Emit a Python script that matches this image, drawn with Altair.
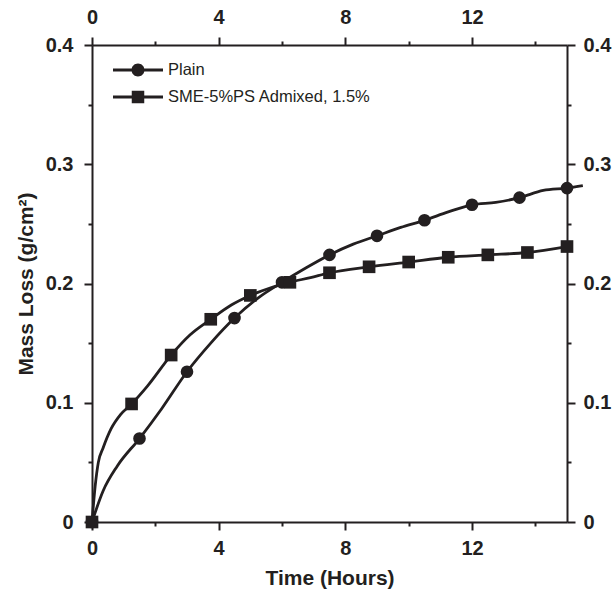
import altair as alt
import pandas as pd

# ---- data ----
plain_t = [0, 0.35, 0.8, 1.5, 2.2, 3.0, 3.75, 4.5, 5.25, 6.0, 6.75, 7.5, 8.25,
           9.0, 9.75, 10.5, 11.25, 12.0, 12.75, 13.5, 14.25, 15.0, 15.5]
plain_v = [0, 0.026, 0.047, 0.070, 0.095, 0.126, 0.150, 0.171, 0.188, 0.201, 0.213,
           0.224, 0.233, 0.240, 0.247, 0.253, 0.260, 0.266, 0.268, 0.272, 0.278,
           0.280, 0.282]
plain_mark_t = [0, 1.5, 3.0, 4.5, 6.0, 7.5, 9.0, 10.5, 12.0, 13.5, 15.0]
plain_mark_v = [0, 0.070, 0.126, 0.171, 0.201, 0.224, 0.240, 0.253, 0.266, 0.272, 0.280]

sme_t = [0, 0.1, 0.2, 0.35, 0.6, 0.9, 1.25, 1.75, 2.5, 3.1, 3.75, 4.4, 5.0, 5.6,
         6.25, 6.9, 7.5, 8.75, 10.0, 11.25, 12.5, 13.75, 15.0]
sme_v = [0, 0.030, 0.050, 0.062, 0.078, 0.090, 0.099, 0.114, 0.140, 0.157, 0.170,
         0.182, 0.190, 0.196, 0.201, 0.205, 0.209, 0.214, 0.218, 0.222, 0.224,
         0.226, 0.231]
sme_mark_t = [0, 1.25, 2.5, 3.75, 5.0, 6.25, 7.5, 8.75, 10.0, 11.25, 12.5, 13.75, 15.0]
sme_mark_v = [0, 0.099, 0.140, 0.170, 0.190, 0.201, 0.209, 0.214, 0.218, 0.222,
              0.224, 0.226, 0.231]

series_names = ["Plain", "SME-5%PS Admixed, 1.5%"]
x_ticks = [0, 2, 4, 6, 8, 10, 12, 14]
y_ticks = [0, 0.05, 0.1, 0.15, 0.2, 0.25, 0.3, 0.35, 0.4]

lines = pd.concat([
    pd.DataFrame({"t": plain_t, "v": plain_v, "s": series_names[0]}),
    pd.DataFrame({"t": sme_t, "v": sme_v, "s": series_names[1]}),
])
marks = pd.concat([
    pd.DataFrame({"t": plain_mark_t, "v": plain_mark_v, "s": series_names[0]}),
    pd.DataFrame({"t": sme_mark_t, "v": sme_mark_v, "s": series_names[1]}),
])

INK = "#231f20"
FONT = "Liberation Sans"

xscale = alt.Scale(domain=[0, 15], nice=False, zero=False)
yscale = alt.Scale(domain=[0, 0.4], nice=False)

tick_cond_x = {"condition": {"test": "datum.value % 4 === 0", "value": 8}, "value": 4}
tick_cond_y = {"condition": {"test": "round(datum.value*100) % 10 === 0", "value": 8}, "value": 4}
xlab = "datum.value % 4 === 0 ? datum.label : ''"
ylab = ("round(datum.value*100) % 10 === 0 ? "
        "(datum.value === 0 ? '0' : format(datum.value, '.1f')) : ''")

common_axis = dict(domainColor=INK, domainWidth=2, tickColor=INK, tickWidth=2,
                   labelFont=FONT, labelFontWeight="bold", labelFontSize=20,
                   labelColor=INK, labelFlush=False, grid=False,
                   titleFont=FONT, titleFontWeight="bold",
                   titleFontSize=21, titleColor=INK)

line_layer = alt.Chart(lines).mark_line(
    color=INK, strokeWidth=2.8, interpolate="monotone"
).encode(
    x=alt.X("t:Q", scale=xscale,
            axis=alt.Axis(orient="bottom", values=x_ticks, labelExpr=xlab,
                          tickSize=tick_cond_x, labelPadding=8,
                          title="Time (Hours)", titlePadding=9, **common_axis)),
    y=alt.Y("v:Q", scale=yscale,
            axis=alt.Axis(orient="left", values=y_ticks, labelExpr=ylab,
                          tickSize=tick_cond_y, labelPadding=11,
                          title="Mass Loss (g/cm²)", titlePadding=9, **common_axis)),
    detail="s:N",
)

point_layer = alt.Chart(marks).mark_point(
    filled=True, color=INK, opacity=1, size=160
).encode(
    x=alt.X("t:Q", scale=xscale,
            axis=alt.Axis(orient="top", values=x_ticks, labelExpr=xlab,
                          tickSize=tick_cond_x, labelPadding=10, title=None,
                          **common_axis)),
    y=alt.Y("v:Q", scale=yscale,
            axis=alt.Axis(orient="right", values=y_ticks, labelExpr=ylab,
                          tickSize=tick_cond_y, labelPadding=8, title=None,
                          **common_axis)),
    shape=alt.Shape("s:N",
                    scale=alt.Scale(domain=series_names, range=["circle", "square"]),
                    legend=None),
)

# legend-only layer: same marks, invisible, with line+marker legend symbols
circle_path = ("M-1,-0.06H1V0.06H-1Z "
               "M-0.26,0A0.26,0.26 0 1,1 0.26,0A0.26,0.26 0 1,1 -0.26,0Z")
square_path = ("M-1,-0.06H1V0.06H-1Z "
               "M-0.25,-0.25H0.25V0.25H-0.25Z")

legend_layer = alt.Chart(marks).mark_point(
    filled=True, color=INK, opacity=0, size=140
).encode(
    x=alt.X("t:Q", scale=xscale, axis=None),
    y=alt.Y("v:Q", scale=yscale, axis=None),
    shape=alt.Shape("s:N",
                    scale=alt.Scale(domain=series_names, range=[circle_path, square_path]),
                    legend=alt.Legend(
                        title=None, orient="none", legendX=21, legendY=15,
                        symbolSize=2500, clipHeight=20, rowPadding=7,
                        labelOffset=5, padding=0, symbolStrokeWidth=0,
                        symbolFillColor=INK, symbolOpacity=1, labelLimit=400,
                        labelFont=FONT, labelFontSize=16.5, labelColor=INK,
                    )),
)

chart = alt.layer(line_layer, point_layer, legend_layer).resolve_axis(
    x="independent", y="independent"
).resolve_scale(shape="independent").properties(
    width=475, height=477,
    autosize=alt.AutoSizeParams(type="none"),
    padding={"left": 92, "top": 45, "right": 46, "bottom": 70},
    background="white",
).configure_view(stroke=None)

chart.save("out.html", embed_options={"renderer": "svg", "actions": False})
